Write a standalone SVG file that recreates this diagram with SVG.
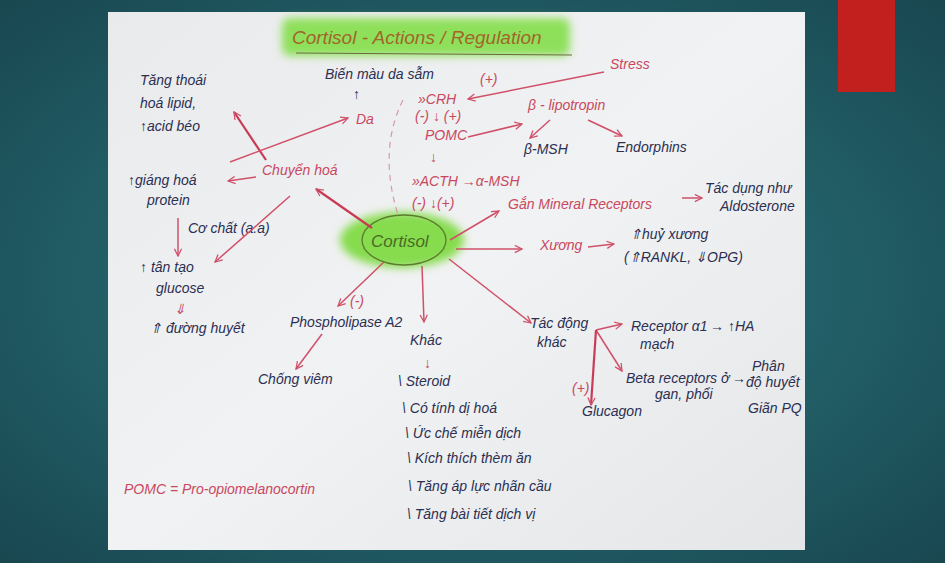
<svg xmlns="http://www.w3.org/2000/svg" width="945" height="563" viewBox="0 0 945 563">
<defs>
<radialGradient id="bg" cx="0.5" cy="0.5" r="0.75">
<stop offset="0" stop-color="#2e7a82"/>
<stop offset="1" stop-color="#17444d"/>
</radialGradient>
<linearGradient id="paper" x1="0" y1="0" x2="1" y2="1">
<stop offset="0" stop-color="#e9eaec"/>
<stop offset="0.5" stop-color="#f1f2f3"/>
<stop offset="1" stop-color="#e4e6e8"/>
</linearGradient>
<filter id="blur" x="-20%" y="-40%" width="140%" height="180%"><feGaussianBlur stdDeviation="4"/></filter>
<marker id="ar" viewBox="0 0 10 10" refX="9" refY="5" markerWidth="9" markerHeight="9" markerUnits="userSpaceOnUse" orient="auto">
<path d="M1,1 L9,5 L1,9" fill="none" stroke="#d0506a" stroke-width="1.4"/>
</marker>
</defs>
<style>
.r{fill:#c9485f;font-family:"Liberation Sans",sans-serif;font-size:14px;font-style:italic}
.d{fill:#2b2f52;font-family:"Liberation Sans",sans-serif;font-size:14px;font-style:italic}
.c{fill:none;stroke:#d0506a;stroke-width:1.5;marker-end:url(#ar)}
.cs{fill:none;stroke:#c93b55;stroke-width:2.2;marker-end:url(#ar)}
</style>
<rect width="945" height="563" fill="url(#bg)"/>
<rect x="838" y="0" width="57" height="92" fill="#c2201f"/>
<rect x="108" y="12" width="697" height="538" fill="url(#paper)"/>

<g id="title">
<rect x="282" y="18" width="288" height="38" rx="8" fill="#8ee05a" filter="url(#blur)"/>
<text x="292" y="44" fill="#a0662a" font-family="Liberation Sans,sans-serif" font-size="19" font-style="italic">Cortisol - Actions / Regulation</text>
<line x1="296" y1="53" x2="572" y2="55" stroke="#6a6a40" stroke-width="1"/>
</g>

<g id="cortisol">
<ellipse cx="402" cy="240" rx="62" ry="28" fill="#86dc4e" filter="url(#blur)"/>
<ellipse cx="404" cy="240" rx="42" ry="25" fill="none" stroke="#5b7d2d" stroke-width="1.3"/>
<text x="371" y="247" fill="#4a6a24" font-family="Liberation Sans,sans-serif" font-size="17" font-style="italic">Cortisol</text>
</g>

<g id="lipid"><text class="d" x="140" y="85">Tăng thoái</text><text class="d" x="140" y="108">hoá lipid,</text><text class="d" x="140" y="131">↑acid béo</text></g>
<g id="da-text"><text class="d" x="325" y="79">Biến màu da sẫm</text><text class="d" x="353" y="99">↑</text></g>
<g id="da"><text class="r" x="356" y="124">Da</text></g>
<g id="stress"><text class="r" x="610" y="69">Stress</text></g>
<g id="crh"><text class="r" x="480" y="84" font-size="10">(+)</text><text class="r" x="418" y="104">»CRH</text><text class="r" x="415" y="121" font-size="11">(-) ↓ (+)</text></g>
<g id="pomc"><text class="r" x="425" y="140">POMC</text><text class="r" x="430" y="162">↓</text></g>
<g id="lipotropin"><text class="r" x="528" y="110">β - lipotropin</text></g>
<g id="bmsh"><text class="d" x="524" y="154">β-MSH</text></g>
<g id="endorphins"><text class="d" x="616" y="152">Endorphins</text></g>
<g id="acth"><text class="r" x="412" y="186">»ACTH →α-MSH</text><text class="r" x="412" y="208" font-size="11">(-) ↓(+)</text></g>
<g id="chuyenhoa"><text class="r" x="262" y="175">Chuyển hoá</text></g>
<g id="protein"><text class="d" x="128" y="185">↑giáng hoá</text><text class="d" x="147" y="205">protein</text></g>
<g id="cochat"><text class="d" x="188" y="233">Cơ chất (a.a)</text></g>
<g id="glucose"><text class="d" x="140" y="272">↑ tân tạo</text><text class="d" x="156" y="293">glucose</text></g>
<g id="duonghuyet"><text class="r" x="174" y="314" font-size="15">⇓</text><text class="d" x="150" y="333">⇑ đường huyết</text></g>
<g id="mineral"><text class="r" x="508" y="209">Gắn Mineral Receptors</text></g>
<g id="aldosterone"><text class="d" x="705" y="193">Tác dụng như</text><text class="d" x="720" y="211">Aldosterone</text></g>
<g id="xuong"><text class="r" x="540" y="250">Xương</text></g>
<g id="huyxuong"><text class="d" x="630" y="239">⇑huỷ xương</text><text class="d" x="624" y="262">(⇑RANKL, ⇓OPG)</text></g>
<g id="phospholipase"><text class="r" x="350" y="306" font-size="11">(-)</text><text class="d" x="290" y="327">Phospholipase A2</text></g>
<g id="chongviem"><text class="d" x="258" y="384">Chống viêm</text></g>
<g id="khac"><text class="d" x="410" y="345">Khác</text><text class="r" x="424" y="368">↓</text>
<text class="d" x="398" y="386">\ Steroid</text>
<text class="d" x="402" y="413">\ Có tính dị hoá</text>
<text class="d" x="405" y="438">\ Ức chế miễn dịch</text>
<text class="d" x="407" y="463">\ Kích thích thèm ăn</text>
<text class="d" x="408" y="491">\ Tăng áp lực nhãn cầu</text>
<text class="d" x="407" y="519">\ Tăng bài tiết dịch vị</text></g>
<g id="tacdongkhac"><text class="d" x="530" y="328">Tác động</text><text class="d" x="537" y="347">khác</text></g>
<g id="alpha"><text class="d" x="631" y="331">Receptor α1</text><text class="d" x="640" y="349">mạch</text><text class="d" x="710" y="331">→ ↑HA</text></g>
<g id="beta"><text class="d" x="626" y="383" font-size="13">Beta receptors ở</text><text class="d" x="655" y="399" font-size="13">gan, phổi</text><text class="d" x="732" y="383">→</text></g>
<g id="phan"><text class="d" x="752" y="371" font-size="13">Phân</text><text class="d" x="746" y="387" font-size="13">độ huyết</text><text class="d" x="748" y="413" font-size="13">Giãn PQ</text></g>
<g id="glucagon"><text class="r" x="572" y="393" font-size="10">(+)</text><text class="d" x="582" y="416">Glucagon</text></g>
<g id="legend"><text class="r" x="124" y="494">POMC = Pro-opiomelanocortin</text></g>

<g id="connectors">
<path class="c" d="M604,72 L468,99"/>
<path class="c" d="M468,137 L522,124"/>
<path class="c" d="M550,120 L530,138"/>
<path class="c" d="M588,120 L622,136"/>
<path d="M403,100 Q378,150 398,215" fill="none" stroke="#d59aa6" stroke-width="1.2" stroke-dasharray="6,5"/>
<path class="cs" d="M372,228 L316,189"/>
<path class="cs" d="M266,160 L234,112"/>
<path class="c" d="M230,162 L348,118"/>
<path class="c" d="M256,177 L228,181"/>
<path class="c" d="M290,196 L215,262"/>
<path class="c" d="M178,218 L178,256"/>
<path class="c" d="M450,240 L499,211"/>
<path class="c" d="M682,198 L702,198"/>
<path class="c" d="M456,249 L522,249"/>
<path class="c" d="M588,247 L614,244"/>
<path class="c" d="M384,262 L338,306"/>
<path class="c" d="M322,334 L296,369"/>
<path class="c" d="M422,266 L424,322"/>
<path class="c" d="M449,259 L531,323"/>
<path class="c" d="M596,330 L622,324"/>
<path class="c" d="M596,330 L622,371"/>
<path class="cs" d="M596,330 L591,405"/>
</g>
</svg>
